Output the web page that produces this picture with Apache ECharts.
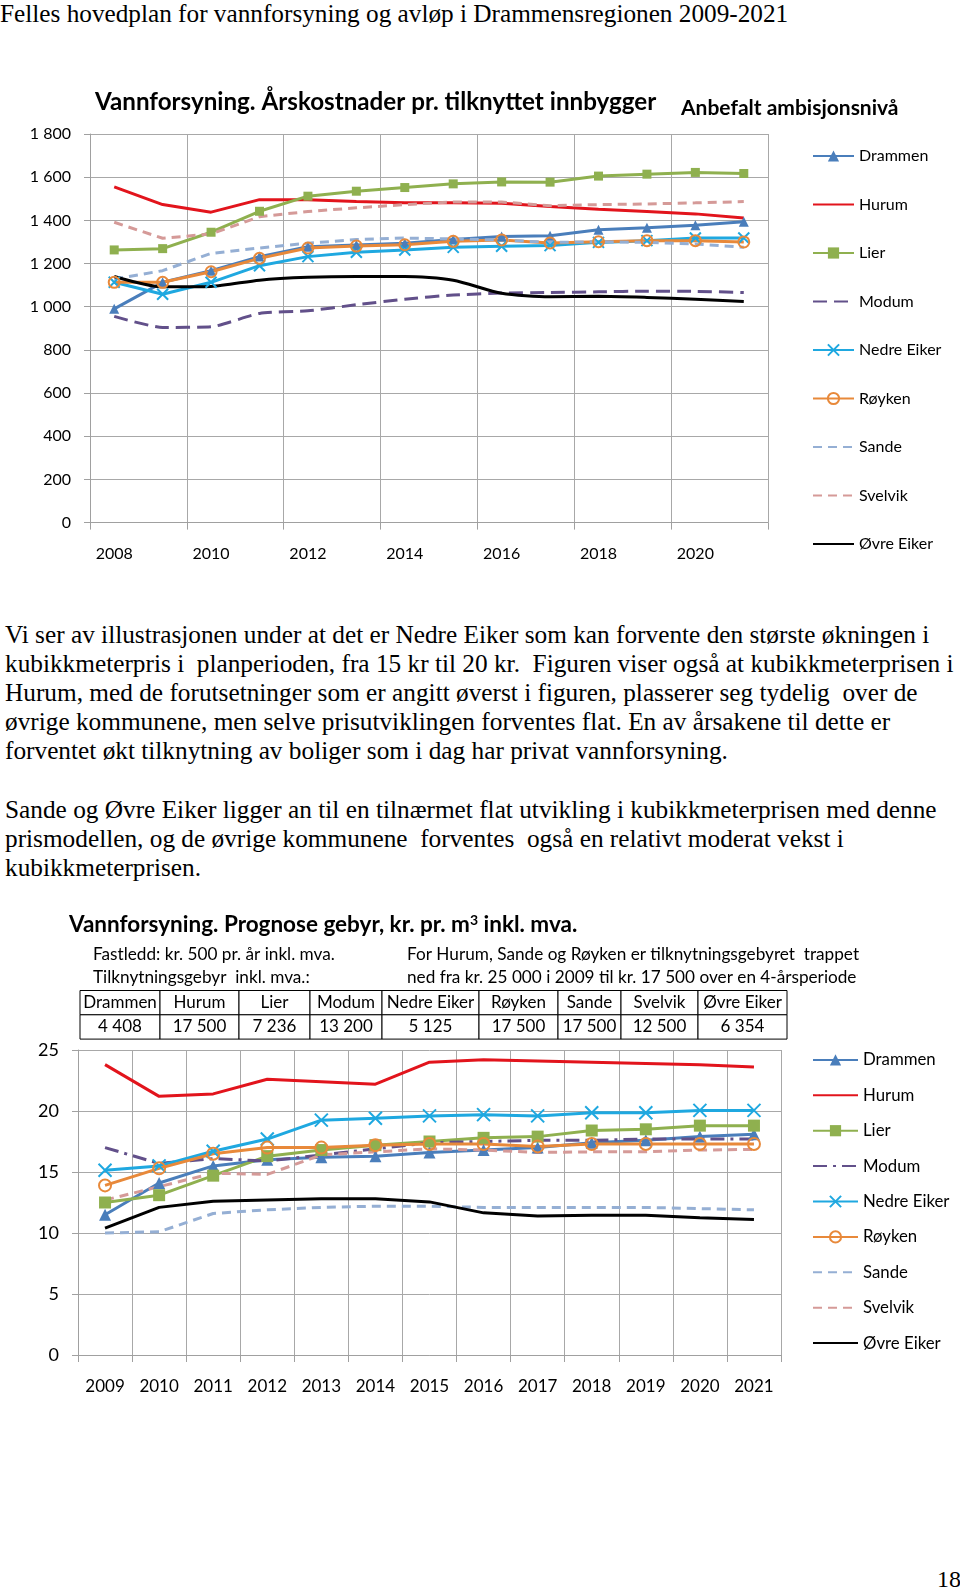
<!DOCTYPE html>
<html>
<head>
<meta charset="utf-8">
<script src="https://cdn.jsdelivr.net/npm/echarts@6/dist/echarts.min.js"></script>
<style>
  html, body { margin:0; padding:0; background:#fff; }
  #page { position:relative; width:960px; height:1592px; overflow:hidden; background:#fff; }
  .serif { position:absolute; font-family:"Liberation Serif","Times New Roman",serif; color:#000; white-space:pre; }
  #c1 { position:absolute; left:0; top:0; width:960px; height:600px; }
  #c2 { position:absolute; left:0; top:890px; width:960px; height:540px; }
</style>
</head>
<body>
<div id="page">
  <div class="serif" id="pageTitle" style="left:0px; top:0px; font-size:25.25px; line-height:26px;">Felles hovedplan for vannforsyning og avløp i Drammensregionen 2009-2021</div>
  <div id="c1"></div>
  <div id="para"></div>
  <div id="c2"></div>
  <div class="serif" style="left:937px; top:1567px; font-size:24px; line-height:24px;">18</div>
</div>
<script>
// ---------- DATA ----------
const names = ['Drammen','Hurum','Lier','Modum','Nedre Eiker','Røyken','Sande','Svelvik','Øvre Eiker'];

// Chart 1: Årskostnader pr. tilknyttet innbygger
const years1 = ['2008','2009','2010','2011','2012','2013','2014','2015','2016','2017','2018','2019','2020','2021'];
const drammen1 = [990, 1113, 1167, 1232, 1278, 1286, 1294, 1311, 1325, 1329, 1357, 1366, 1377, 1393];
const hurum1   = [1555, 1473, 1438, 1496, 1495, 1487, 1482, 1481, 1479, 1464, 1451, 1441, 1430, 1411];
const lier1    = [1263, 1269, 1345, 1442, 1512, 1535, 1552, 1569, 1578, 1577, 1605, 1614, 1622, 1617];
const modum1   = [955, 904, 907, 969, 981, 1009, 1035, 1054, 1063, 1066, 1069, 1072, 1071, 1066];
const nedre1   = [1113, 1058, 1113, 1190, 1232, 1252, 1263, 1275, 1280, 1283, 1298, 1306, 1318, 1318];
const royken1  = [1113, 1113, 1162, 1224, 1272, 1281, 1287, 1303, 1309, 1295, 1301, 1306, 1306, 1300];
const sande1   = [1128, 1167, 1247, 1272, 1294, 1311, 1318, 1314, 1309, 1298, 1301, 1298, 1291, 1275];
const svelvik1 = [1391, 1317, 1337, 1417, 1441, 1458, 1473, 1485, 1485, 1468, 1473, 1476, 1481, 1487];
const ovre1    = [1140, 1092, 1094, 1123, 1136, 1140, 1140, 1123, 1062, 1046, 1048, 1043, 1035, 1024];

// Chart 2: Prognose gebyr, kr. pr. m3 inkl. mva.
const years2 = ['2009','2010','2011','2012','2013','2014','2015','2016','2017','2018','2019','2020','2021'];
const drammen2 = [11.5, 14.1, 15.5, 16.0, 16.2, 16.3, 16.6, 16.8, 17.0, 17.4, 17.6, 17.9, 18.1];
const hurum2   = [23.8, 21.2, 21.4, 22.6, 22.4, 22.2, 24.0, 24.2, 24.1, 24.0, 23.9, 23.8, 23.6];
const lier2    = [12.5, 13.1, 14.7, 16.3, 16.8, 17.2, 17.5, 17.8, 17.9, 18.4, 18.5, 18.8, 18.8];
const modum2   = [17.0, 15.7, 16.1, 15.9, 16.4, 16.9, 17.4, 17.5, 17.6, 17.6, 17.7, 17.7, 17.7];
const nedre2   = [15.15, 15.5, 16.7, 17.7, 19.25, 19.4, 19.6, 19.7, 19.6, 19.85, 19.85, 20.05, 20.05];
const royken2  = [13.9, 15.3, 16.5, 17.0, 17.0, 17.2, 17.3, 17.3, 17.1, 17.3, 17.3, 17.3, 17.3];
const sande2   = [10.0, 10.1, 11.6, 11.9, 12.1, 12.2, 12.2, 12.1, 12.1, 12.1, 12.1, 12.0, 11.9];
const svelvik2 = [12.7, 13.8, 14.9, 14.8, 16.4, 16.65, 16.9, 16.8, 16.6, 16.65, 16.65, 16.8, 16.85];
const ovre2    = [10.4, 12.1, 12.6, 12.7, 12.8, 12.8, 12.55, 11.65, 11.4, 11.45, 11.45, 11.25, 11.1];

// Table: Tilknytningsgebyr inkl. mva.
const tableHeaders = ['Drammen','Hurum','Lier','Modum','Nedre Eiker','Røyken','Sande','Svelvik','Øvre Eiker'];
const tableValues  = ['4 408','17 500','7 236','13 200','5 125','17 500','17 500','12 500','6 354'];

// Texts
const paraLines = [
  'Vi ser av illustrasjonen under at det er Nedre Eiker som kan forvente den største økningen i',
  'kubikkmeterpris i  planperioden, fra 15 kr til 20 kr.  Figuren viser også at kubikkmeterprisen i',
  'Hurum, med de forutsetninger som er angitt øverst i figuren, plasserer seg tydelig  over de',
  'øvrige kommunene, men selve prisutviklingen forventes flat. En av årsakene til dette er',
  'forventet økt tilknytning av boliger som i dag har privat vannforsyning.',
  '',
  'Sande og Øvre Eiker ligger an til en tilnærmet flat utvikling i kubikkmeterprisen med denne',
  'prismodellen, og de øvrige kommunene  forventes  også en relativt moderat vekst i',
  'kubikkmeterprisen.'
];

// ---------- STYLES ----------
const colors = {
  'Drammen':'#4A7EBB', 'Hurum':'#E2141C', 'Lier':'#8FB04F', 'Modum':'#62508A',
  'Nedre Eiker':'#1FA8E0', 'Røyken':'#E8893A', 'Sande':'#95AFD4', 'Svelvik':'#D59A98', 'Øvre Eiker':'#000000'
};
const SANS = 'Lato, "Open Sans", sans-serif';
const XPATH = 'path://M0,0L10,10M10,0L0,10';
const noMarker = ['Hurum','Modum','Sande','Svelvik','Øvre Eiker'];

// paragraph
(function(){
  const para = document.getElementById('para');
  const top0 = 619.5, lh = 29.2;
  paraLines.forEach((t,i)=>{
    const d = document.createElement('div');
    d.className = 'serif';
    d.style.left = '5px';
    d.style.top = (top0 + i*lh) + 'px';
    d.style.fontSize = '25.3px';
    d.style.lineHeight = lh + 'px';
    d.textContent = t;
    para.appendChild(d);
  });
})();

function fmtThousands(v){
  return String(v).replace(/\B(?=(\d{3})+(?!\d))/g, ' ');
}

function mkSeries(name, data, chartNo){
  const c = colors[name];
  const big = chartNo === 2;
  const s = { name, type:'line', data, smooth:false, lineStyle:{ color:c, width:3 }, itemStyle:{ color:c }, symbol:'none', z:2 };
  if (name === 'Drammen') { s.symbol='triangle'; s.symbolSize = big?12:10; }
  if (name === 'Lier') { s.symbol='rect'; s.symbolSize = big?12:9; }
  if (name === 'Nedre Eiker') { s.symbol=XPATH; s.symbolSize = big?13:11; s.itemStyle={ color:'rgba(0,0,0,0)', borderColor:c, borderWidth:2 }; }
  if (name === 'Røyken') { s.symbol='circle'; s.symbolSize = big?12:11; s.itemStyle={ color:'rgba(255,255,255,0)', borderColor:c, borderWidth:2 }; }
  if (name === 'Modum') { s.lineStyle.type = big ? [14,6,3,6] : [14,7]; }
  if (name === 'Sande' || name === 'Svelvik') { s.lineStyle.type = [9,6]; }
  if (name === 'Øvre Eiker' && !big) { s.smooth = 0.25; }
  if (name === 'Modum' && !big) { s.smooth = 0.2; }
  s.showSymbol = s.symbol !== 'none';
  return s;
}
function legendData(){
  return names.map(n => noMarker.indexOf(n) >= 0 ? { name:n, itemStyle:{ opacity:0 } } : { name:n });
}

// ---------- CHART 1 ----------
const chart1 = echarts.init(document.getElementById('c1'));
const data1 = [drammen1, hurum1, lier1, modum1, nedre1, royken1, sande1, svelvik1, ovre1];
chart1.setOption({
  animation:false,
  title:[
    { text:'Vannforsyning. Årskostnader pr. tilknyttet innbygger', left:90, top:85,
      textStyle:{ fontFamily:SANS, fontWeight:'bold', fontSize:24.2, color:'#000' } },
    { text:'Anbefalt ambisjonsnivå', left:676, top:93,
      textStyle:{ fontFamily:SANS, fontWeight:'bold', fontSize:21, color:'#000' } }
  ],
  grid:{ left:90, top:134, width:678, height:388.6, containLabel:false },
  xAxis:{
    type:'category', data:years1, boundaryGap:true,
    axisLine:{ lineStyle:{ color:'#a0a0a0', width:1 } },
    axisTick:{ show:true, interval:1, length:7, lineStyle:{ color:'#a0a0a0' } },
    axisLabel:{ interval:1, color:'#000', fontFamily:SANS, fontSize:16, margin:23 },
    splitLine:{ show:true, interval:1, lineStyle:{ color:'#a8a8a8', width:1 } }
  },
  yAxis:{
    type:'value', min:0, max:1800, interval:200,
    axisLine:{ show:true, lineStyle:{ color:'#a0a0a0' } },
    axisTick:{ show:true, length:6, lineStyle:{ color:'#a0a0a0' } },
    axisLabel:{ color:'#000', fontFamily:SANS, fontSize:16, margin:19, formatter:fmtThousands },
    splitLine:{ lineStyle:{ color:'#a8a8a8', width:1 } }
  },
  legend:{
    orient:'vertical', left:812, top:148, padding:0, itemWidth:41, itemHeight:14, itemGap:32.5,
    data:legendData(), selectedMode:false,
    textStyle:{ color:'#000', fontFamily:SANS, fontSize:16 }
  },
  series: names.map((n,i)=>mkSeries(n, data1[i], 1))
});

// ---------- CHART 2 ----------
const chart2 = echarts.init(document.getElementById('c2'));
const data2 = [drammen2, hurum2, lier2, modum2, nedre2, royken2, sande2, svelvik2, ovre2];
// table graphic (built from arrays)
const colEdges = [80, 160, 239, 310, 382, 479, 558, 621, 698, 787];
const rowTop = 100.5, rowH = 24.3;
const tableEls = [];
tableHeaders.forEach((h,i)=>{
  const x0 = colEdges[i], x1 = colEdges[i+1];
  [h, tableValues[i]].forEach((t,r)=>{
    tableEls.push({ type:'rect', shape:{ x:x0, y:rowTop + r*rowH, width:x1-x0, height:rowH },
      style:{ fill:'#fff', stroke:'#000', lineWidth:1 } });
    tableEls.push({ type:'text', x:(x0+x1)/2, y:rowTop + r*rowH + rowH/2,
      style:{ text:t, fill:'#000', font:'17px ' + SANS, textAlign:'center', textVerticalAlign:'middle' } });
  });
});
const subTexts = [
  { t:'Fastledd: kr. 500 pr. år inkl. mva.', x:93, y:64 },
  { t:'Tilknytningsgebyr  inkl. mva.:', x:93, y:87 },
  { t:'For Hurum, Sande og Røyken er tilknytningsgebyret  trappet', x:407, y:64 },
  { t:'ned fra kr. 25 000 i 2009 til kr. 17 500 over en 4-årsperiode', x:407, y:87 }
];
subTexts.forEach(s=>{
  tableEls.push({ type:'text', x:s.x, y:s.y, style:{ text:s.t, fill:'#000', font:'17.2px ' + SANS, textAlign:'left', textVerticalAlign:'middle' } });
});
tableEls.push({ type:'text', x:69, y:35, style:{
  rich:{ b:{ font:'bold 22.5px ' + SANS, fill:'#000' }, sup:{ font:'bold 14px ' + SANS, fill:'#000', verticalAlign:'top', padding:[0,0,9,0] } },
  text:'{b|Vannforsyning. Prognose gebyr, kr. pr. m}{sup|3}{b| inkl. mva.}',
  textAlign:'left', textVerticalAlign:'middle' } });

chart2.setOption({
  animation:false,
  graphic: tableEls,
  grid:{ left:78, top:160, width:703, height:305, containLabel:false },
  xAxis:{
    type:'category', data:years2, boundaryGap:true,
    axisLine:{ lineStyle:{ color:'#a0a0a0', width:1 } },
    axisTick:{ show:true, interval:0, length:7, lineStyle:{ color:'#a0a0a0' } },
    axisLabel:{ interval:0, color:'#000', fontFamily:SANS, fontSize:17, margin:23 },
    splitLine:{ show:true, interval:0, lineStyle:{ color:'#a8a8a8', width:1 } }
  },
  yAxis:{
    type:'value', min:0, max:25, interval:5,
    axisLine:{ show:true, lineStyle:{ color:'#a0a0a0' } },
    axisTick:{ show:true, length:6, lineStyle:{ color:'#a0a0a0' } },
    axisLabel:{ color:'#000', fontFamily:SANS, fontSize:18, margin:19 },
    splitLine:{ lineStyle:{ color:'#a8a8a8', width:1 } }
  },
  legend:{
    orient:'vertical', left:812, top:161.4, padding:0, itemWidth:45, itemHeight:14, itemGap:18.4,
    data:legendData(), selectedMode:false,
    textStyle:{ color:'#000', fontFamily:SANS, fontSize:16.8 }
  },
  series: names.map((n,i)=>mkSeries(n, data2[i], 2))
});
</script>
</body>
</html>
